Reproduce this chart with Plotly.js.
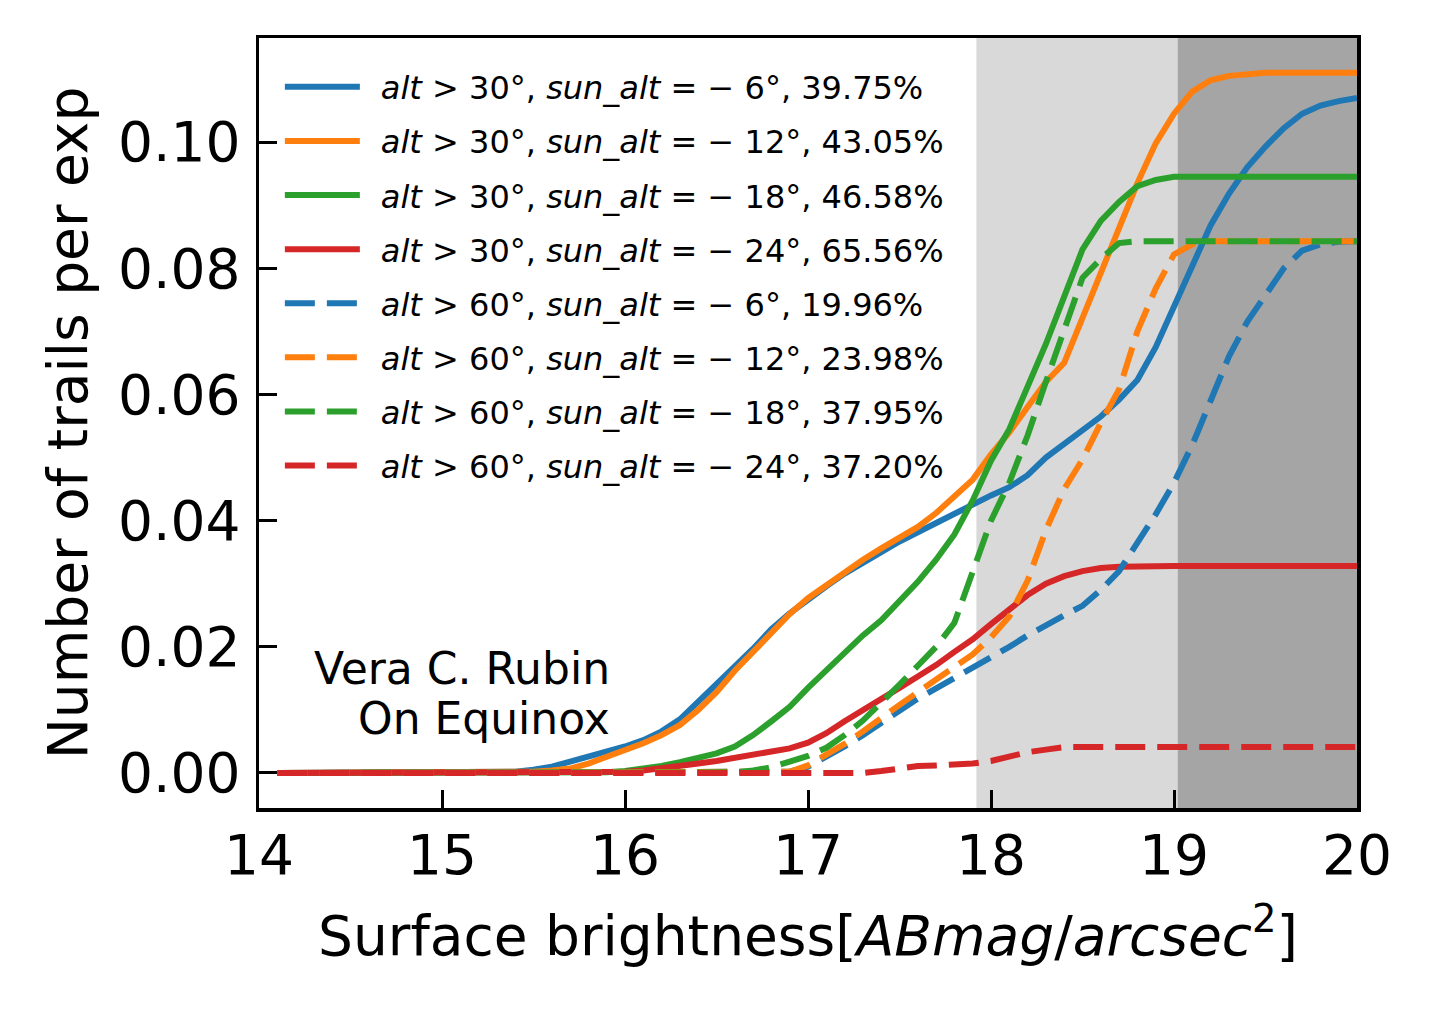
<!DOCTYPE html>
<html>
<head>
<meta charset="utf-8">
<script src="https://cdn.plot.ly/plotly-3.0.1.min.js"></script>
<style>
  html, body { margin: 0; padding: 0; background: #ffffff; }
  #chart-plot-container { width: 1431px; height: 1012px; }
</style>
</head>
<body>
<div id="chart-plot-container"></div>
<script>
// DATA (surface brightness bins, 0.1 mag)
const mag = [
  14.1, 14.2, 14.3, 14.4, 14.5, 14.6, 14.7, 14.8, 14.9, 15.0,
  15.1, 15.2, 15.3, 15.4, 15.5, 15.6, 15.7, 15.8, 15.9, 16.0,
  16.1, 16.2, 16.3, 16.4, 16.5, 16.6, 16.7, 16.8, 16.9, 17.0,
  17.1, 17.2, 17.3, 17.4, 17.5, 17.6, 17.7, 17.8, 17.9, 18.0,
  18.1, 18.2, 18.3, 18.4, 18.5, 18.6, 18.7, 18.8, 18.9, 19.0,
  19.1, 19.2, 19.3, 19.4, 19.5, 19.6, 19.7, 19.8, 19.9, 20.0
];

// alt > 30
const alt30Sun6 = [
  0, 0, 0, 0, 0, 0, 0, 0, 0, 0,
  0, 0, 0, 0.0002, 0.0005, 0.0010, 0.0018, 0.0026, 0.0033, 0.0042,
  0.0052, 0.0066, 0.0085, 0.0112, 0.0140, 0.0169, 0.0197, 0.0228, 0.0253, 0.0276,
  0.0296, 0.0316, 0.0334, 0.0350, 0.0367, 0.0382, 0.0396, 0.0410, 0.0425, 0.0440,
  0.0453, 0.0472, 0.0500, 0.0522, 0.0543, 0.0565, 0.0592, 0.0623, 0.0675, 0.0740,
  0.0805, 0.0868, 0.0918, 0.0960, 0.0993, 0.1022, 0.1045, 0.1058, 0.1065, 0.1070
];
const alt30Sun12 = [
  0, 0, 0, 0, 0, 0, 0, 0, 0, 0,
  0, 0, 0, 0, 0.0002, 0.0004, 0.0007, 0.0015, 0.0025, 0.0036,
  0.0047, 0.0060, 0.0076, 0.0100, 0.0128, 0.0162, 0.0193, 0.0224, 0.0252, 0.0277,
  0.0298, 0.0318, 0.0338, 0.0356, 0.0373, 0.0390, 0.0412, 0.0438, 0.0465, 0.0505,
  0.0540, 0.0580, 0.0620, 0.0650, 0.0720, 0.0795, 0.0860, 0.0935, 0.0998, 0.1045,
  0.1080, 0.1098, 0.1105, 0.1108, 0.1110, 0.1110, 0.1110, 0.1110, 0.1110, 0.1110
];
const alt30Sun18 = [
  0, 0, 0, 0, 0, 0, 0, 0, 0, 0,
  0, 0, 0, 0, 0, 0, 0, 0, 0.0001, 0.0003,
  0.0006, 0.0011, 0.0017, 0.0024, 0.0031, 0.0042, 0.0060, 0.0082, 0.0105, 0.0135,
  0.0163, 0.0191, 0.0218, 0.0242, 0.0272, 0.0303, 0.0338, 0.0378, 0.0432, 0.0495,
  0.0545, 0.0610, 0.0680, 0.0755, 0.0830, 0.0875, 0.0905, 0.0930, 0.0940, 0.0945,
  0.0945, 0.0945, 0.0945, 0.0945, 0.0945, 0.0945, 0.0945, 0.0945, 0.0945, 0.0945
];
const alt30Sun24 = [
  0, 0, 0, 0, 0, 0, 0, 0, 0, 0,
  0, 0, 0, 0, 0, 0, 0, 0, 0.0001, 0.0002,
  0.0004, 0.0007, 0.0011, 0.0015, 0.0019, 0.0024, 0.0028, 0.0033, 0.0039, 0.0048,
  0.0063, 0.0082, 0.0099, 0.0116, 0.0135, 0.0153, 0.0171, 0.0192, 0.0212, 0.0236,
  0.0260, 0.0282, 0.0300, 0.0312, 0.0320, 0.0325, 0.0327, 0.0328, 0.0328, 0.0328,
  0.0328, 0.0328, 0.0328, 0.0328, 0.0328, 0.0328, 0.0328, 0.0328, 0.0328, 0.0328
];

// alt > 60
const alt60Sun6 = [
  0, 0, 0, 0, 0, 0, 0, 0, 0, 0,
  0, 0, 0, 0, 0, 0, 0, 0, 0, 0,
  0, 0, 0, 0, 0, 0, 0, 0, 0.0002, 0.0010,
  0.0025, 0.0042, 0.0060, 0.0080, 0.0100, 0.0118, 0.0134, 0.0150, 0.0166, 0.0182,
  0.0200, 0.0218, 0.0235, 0.0250, 0.0265, 0.0290, 0.0320, 0.0365, 0.0410, 0.0460,
  0.0520, 0.0590, 0.0660, 0.0715, 0.0757, 0.0800, 0.0828, 0.0838, 0.0842, 0.0843
];
const alt60Sun12 = [
  0, 0, 0, 0, 0, 0, 0, 0, 0, 0,
  0, 0, 0, 0, 0, 0, 0, 0, 0, 0,
  0, 0, 0, 0, 0, 0, 0, 0, 0.0002, 0.0012,
  0.0028, 0.0046, 0.0066, 0.0088, 0.0108, 0.0128, 0.0148, 0.0168, 0.0188, 0.0215,
  0.0248, 0.0305, 0.0385, 0.0450, 0.0497, 0.0555, 0.0608, 0.0700, 0.0768, 0.0822,
  0.0838, 0.0843, 0.0843, 0.0843, 0.0843, 0.0843, 0.0843, 0.0843, 0.0843, 0.0843
];
const alt60Sun18 = [
  0, 0, 0, 0, 0, 0, 0, 0, 0, 0,
  0, 0, 0, 0, 0, 0, 0, 0, 0, 0,
  0, 0, 0, 0, 0, 0.0001, 0.0004, 0.0009, 0.0018, 0.0027,
  0.0040, 0.0060, 0.0083, 0.0110, 0.0140, 0.0170, 0.0200, 0.0238, 0.0320, 0.0400,
  0.0460, 0.0535, 0.0620, 0.0700, 0.0785, 0.0815, 0.0840, 0.0843, 0.0843, 0.0843,
  0.0843, 0.0843, 0.0843, 0.0843, 0.0843, 0.0843, 0.0843, 0.0843, 0.0843, 0.0843
];
const alt60Sun24 = [
  0, 0, 0, 0, 0, 0, 0, 0, 0, 0,
  0, 0, 0, 0, 0, 0, 0, 0, 0, 0,
  0, 0, 0, 0, 0, 0, 0, 0, 0, 0,
  0, 0, 0, 0.0003, 0.0008, 0.0011, 0.0012, 0.0013, 0.0015, 0.0019,
  0.0027, 0.0033, 0.0037, 0.0041, 0.0041, 0.0041, 0.0041, 0.0041, 0.0041, 0.0041,
  0.0041, 0.0041, 0.0041, 0.0041, 0.0041, 0.0041, 0.0041, 0.0041, 0.0041, 0.0041
];

const seriesValues = [alt30Sun6, alt30Sun12, alt30Sun18, alt30Sun24, alt60Sun6, alt60Sun12, alt60Sun18, alt60Sun24];
const altCuts = ['30', '30', '30', '30', '60', '60', '60', '60'];
const sunAlts = ['6', '12', '18', '24', '6', '12', '18', '24'];
const percentages = ['39.75', '43.05', '46.58', '65.56', '19.96', '23.98', '37.95', '37.20'];

// twilight bands (light and dark shading)
const lightBand = [17.92, 19.02];
const darkBand = [19.02, 20.0];

const xTicks = [14, 15, 16, 17, 18, 19, 20];
const yTicks = [0, 0.02, 0.04, 0.06, 0.08, 0.10];


// CHART
const FONT = 'DejaVu Sans';

function getChartMarkerColor(index) {
  const colors = ['#1f77b4', '#ff7f0e', '#2ca02c', '#d62728'];
  return colors[index % colors.length];
}

function legendLabel(index) {
  // leading en space pushes the text away from the line sample
  return '\u2002<i>alt</i> &gt; ' + altCuts[index] + '°, <i>sun_alt</i> = − ' +
    sunAlts[index] + '°, ' + percentages[index] + '%';
}

function createTraces() {
  let traces = [];
  for (let i = 0; i < seriesValues.length; i++) {
    traces.push({
      x: mag,
      y: seriesValues[i],
      type: 'scatter',
      mode: 'lines',
      name: legendLabel(i),
      legendgroup: 'g' + i,
      line: {
        color: getChartMarkerColor(i),
        width: 6,
        dash: i < 4 ? 'solid' : '30px,12px'
      }
    });
  }
  return traces;
}

function createLayout() {
  let axisBase = {
    showgrid: false,
    zeroline: false,
    showline: true,
    mirror: true,
    linecolor: '#000000',
    linewidth: 3.5,
    ticks: 'inside',
    ticklen: 18,
    tickwidth: 3,
    tickcolor: '#000000',
    tickfont: { family: FONT, size: 55, color: '#000000' }
  };

  let layout = {
    width: 1431,
    height: 1012,
    paper_bgcolor: '#ffffff',
    plot_bgcolor: '#ffffff',
    showlegend: true,
    margin: { l: 259, r: 74, t: 38, b: 204, pad: 0, autoexpand: false },
    xaxis: Object.assign({}, axisBase, {
      range: [14, 20],
      tickvals: xTicks,
      ticktext: xTicks.map(v => String(v)),
      ticklabelstandoff: -4,
      title: {
        text: 'Surface brightness[<i>ABmag</i>/<i>arcsec</i><sup>2</sup>]',
        font: { family: FONT, size: 55, color: '#000000' },
        standoff: 32
      }
    }),
    yaxis: Object.assign({}, axisBase, {
      range: [-0.00555, 0.1165],
      tickvals: yTicks,
      ticktext: yTicks.map(v => v.toFixed(2)),
      ticklabelstandoff: 4,
      title: {
        text: 'Number of trails per exp',
        font: { family: FONT, size: 55, color: '#000000' },
        standoff: 14
      }
    }),
    legend: {
      x: 0.019,
      y: 0.972,
      xanchor: 'left',
      yanchor: 'top',
      bgcolor: 'rgba(0,0,0,0)',
      borderwidth: 0,
      itemwidth: 75,
      traceorder: 'grouped',
      tracegroupgap: 9.5,
      font: { family: FONT, size: 32, color: '#000000' }
    },
    shapes: [
      {
        type: 'rect', xref: 'x', yref: 'paper',
        x0: lightBand[0], x1: lightBand[1], y0: 0, y1: 1,
        fillcolor: '#d9d9d9', line: { width: 0 }, layer: 'below'
      },
      {
        type: 'rect', xref: 'x', yref: 'paper',
        x0: darkBand[0], x1: darkBand[1], y0: 0, y1: 1,
        fillcolor: '#a5a5a5', line: { width: 0 }, layer: 'below'
      }
    ],
    annotations: [
      {
        text: 'Vera C. Rubin', xref: 'x', yref: 'y',
        x: 15.93, y: 0.0166, xanchor: 'right', yanchor: 'middle',
        showarrow: false, align: 'right',
        font: { family: FONT, size: 44, color: '#000000' }
      },
      {
        text: 'On Equinox', xref: 'x', yref: 'y',
        x: 15.93, y: 0.0087, xanchor: 'right', yanchor: 'middle',
        showarrow: false, align: 'right',
        font: { family: FONT, size: 44, color: '#000000' }
      }
    ]
  };
  return layout;
}

Plotly.newPlot('chart-plot-container', createTraces(), createLayout(), { staticPlot: true });
</script>
</body>
</html>
